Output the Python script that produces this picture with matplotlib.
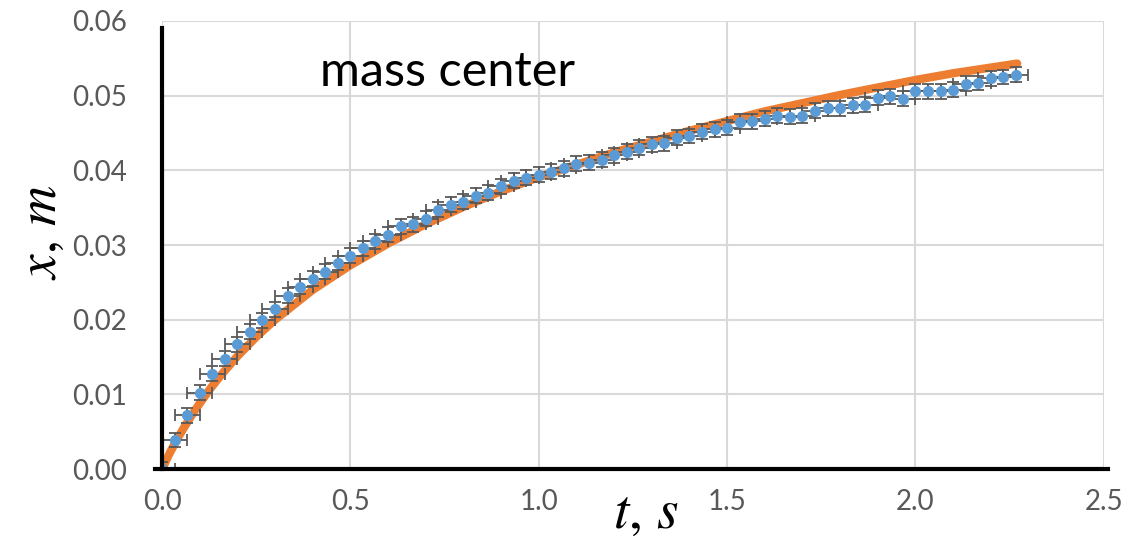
import numpy as np
import matplotlib
matplotlib.use("Agg")
import matplotlib.pyplot as plt
from matplotlib.lines import Line2D

plt.rcParams['font.family'] = ['Lato', 'DejaVu Sans']
plt.rcParams['mathtext.fontset'] = 'stix'

# measured centre of mass, one frame every 1/30 s
frame_rate = 30
x_meas = [0.0000, 0.0039, 0.0072, 0.0102, 0.0128, 0.0148, 0.0167, 0.0184, 0.0199, 0.0214,
          0.0232, 0.0244, 0.0255, 0.0264, 0.0276, 0.0286, 0.0296, 0.0305, 0.0314, 0.0325,
          0.0328, 0.0335, 0.0347, 0.0354, 0.0358, 0.0366, 0.0370, 0.0379, 0.0386, 0.0390,
          0.0394, 0.0398, 0.0403, 0.0409, 0.0410, 0.0414, 0.0420, 0.0425, 0.0430, 0.0435,
          0.0436, 0.0444, 0.0446, 0.0452, 0.0455, 0.0457, 0.0465, 0.0466, 0.0469, 0.0473,
          0.0472, 0.0473, 0.0480, 0.0483, 0.0483, 0.0487, 0.0488, 0.0497, 0.0499, 0.0496,
          0.0506, 0.0506, 0.0506, 0.0508, 0.0516, 0.0517, 0.0523, 0.0525, 0.0528]
t_meas = np.arange(len(x_meas)) / frame_rate
t_err = 1 / frame_rate
x_err = 0.001

# fitted curve (orange)
t_fit = [0, 0.02, 0.04, 0.06, 0.08, 0.10, 0.13, 0.16, 0.20, 0.25, 0.30, 0.40, 0.50,
         0.60, 0.70, 0.80, 0.90, 1.00, 1.20, 1.40, 1.60, 1.80, 2.00, 2.10, 2.27]
x_fit = [0, 0.0021, 0.0040, 0.0057, 0.0073, 0.0088, 0.0109, 0.0128, 0.0151, 0.0177,
         0.0200, 0.0240, 0.0273, 0.0302, 0.0328, 0.0351, 0.0372, 0.0391, 0.0424, 0.0453,
         0.0479, 0.0501, 0.0521, 0.0530, 0.0543]

fig = plt.figure(figsize=(11.45, 5.38), dpi=100)
ax = fig.add_axes([0.1415, 0.128, 0.8225, 0.833])

ax.plot(t_fit, x_fit, color='#ED7D31', lw=6, solid_capstyle='round', zorder=2)
ax.errorbar(t_meas, x_meas, xerr=t_err, yerr=x_err, fmt='o', color='#5B9BD5',
            ms=7, ecolor='#595959', elinewidth=1.3, capsize=4.5, capthick=1.3, zorder=3)

ax.set_xlim(0, 2.5)
ax.set_ylim(0, 0.06)
ax.set_xticks(np.arange(0, 2.51, 0.5))
ax.set_yticks(np.arange(0, 0.061, 0.01))
ax.set_xticklabels(['%.1f' % v for v in np.arange(0, 2.51, 0.5)])
ax.set_yticklabels(['%.2f' % v for v in np.arange(0, 0.061, 0.01)])
ax.tick_params(length=0, labelsize=20, labelcolor='#595959')
ax.tick_params(axis='x', pad=14)
ax.tick_params(axis='y', pad=25)
ax.grid(True, color='#D9D9D9', lw=1.5)
ax.set_axisbelow(True)
for side in ['top', 'right', 'left', 'bottom']:
    ax.spines[side].set_visible(False)

# black axes lines
ax.add_line(Line2D([-0.018, 2.51], [0, 0], color='black', lw=3, clip_on=False, zorder=4))
ax.add_line(Line2D([0, 0], [0, 0.059], color='black', lw=3, clip_on=False, zorder=4))

ax.text(0.42, 0.0513, 'mass center', fontsize=35, color='black', va='baseline')

fig.text(0.035, 0.568, r'$x,\,m$', fontsize=40, rotation=90, ha='center', va='center')
fig.text(0.564, 0.048, r'$t,\,s$', fontsize=40, ha='center', va='center')

fig.savefig('out.png', dpi=100)
